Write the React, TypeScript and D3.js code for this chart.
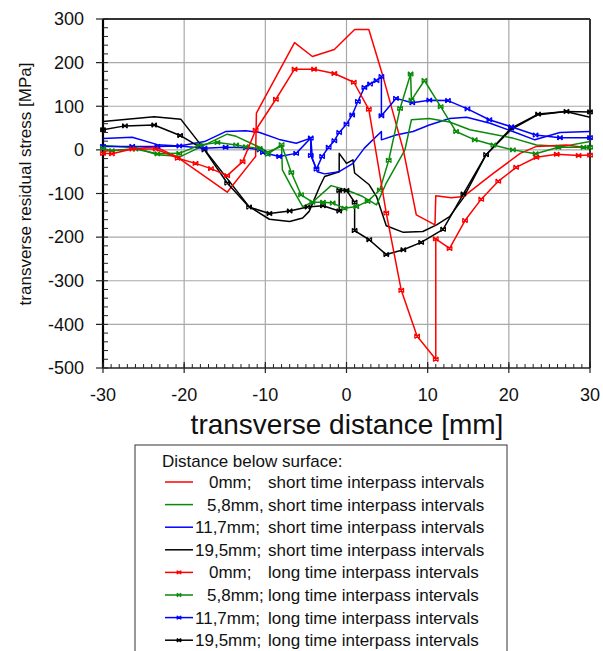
import React from "react";
import * as d3 from "d3";

type Pt = [number, number];

// transverse distance [mm], transverse residual stress [MPa]
const red0Short: Pt[] = [
  [-30, -3], [-26.4, 2], [-23.5, 7], [-20.8, -17], [-14.7, -97], [-11.2, -15], [-11.1, 84],
  [-6.4, 246], [-4.2, 214], [-1.5, 230], [1.0, 276], [2.75, 276], [4.5, 168], [7.0, 0],
  [8.6, -149], [10.9, -172], [11, -105], [12.9, -110], [14.4, -107], [18, -55], [21.4, -8],
  [23.4, 8], [27.1, 11], [30, 4],
];
const green58Short: Pt[] = [
  [-30, 10], [-26, 5], [-23.3, -11], [-20.4, -15], [-14.7, 36], [-13.6, 31], [-10.7, 6],
  [-9.7, -5], [-8, 8], [-7.9, -46], [-6.8, -84], [-5.4, -130], [-4.2, -120], [-1.9, -82],
  [0, -92], [2, -107], [3.7, -126], [4.9, -76], [7.2, 0], [8, 69], [10.2, 72], [12.7, 64],
  [15.2, 46], [20.5, 27], [23.4, 11], [26.7, 8], [30, 19],
];
const blue117Short: Pt[] = [
  [-30, 26], [-26.4, 29], [-23.3, 12], [-20.6, 9], [-17.5, 19], [-14.9, 42], [-12.4, 44],
  [-10.7, 40], [-8.3, 24], [-6.2, 15], [-4.4, 27], [-4.2, -20], [-3.6, -50], [-2.7, -55],
  [-0.9, -50], [0.8, -31], [2.2, 4], [4.3, 42], [4.3, 23], [6.1, 34], [8.2, 42], [10.2, 57],
  [12.7, 72], [14.8, 75], [17.7, 61], [20.5, 42], [23.2, 23], [26.3, 40], [30, 42],
];
const black195Short: Pt[] = [
  [-30, 65], [-23.7, 76], [-20.4, 70], [-12, -130], [-9.5, -159], [-7, -164], [-5.4, -156],
  [-4.6, -141], [-3.3, -84], [-2.7, -61], [-0.9, -50], [-0.9, -8], [0, -31], [0.8, -23],
  [1.0, -53], [2.8, -80], [3.7, -107], [4.9, -174], [7, -189], [9.4, -187], [11.1, -172],
  [12.7, -153], [14.4, -110], [17.2, -11], [20.3, 47], [23.5, 80], [27, 88], [30, 75],
];

const red0Long: Pt[] = [
  [-30, -8], [-28.9, -9], [-26.4, 2], [-23.5, 2], [-20.8, -19], [-18.6, -31], [-16.7, -43],
  [-14.7, -59], [-12.8, -27], [-11.2, 45], [-8.7, 116], [-6.4, 185], [-4.0, 185], [-1.5, 175],
  [0.9, 155], [2.75, 93], [4.9, -145], [6.75, -322], [8.7, -427], [11, -480], [11, -204],
  [12.7, -226], [14.6, -162], [16.6, -113], [18.7, -72], [20.9, -40], [23.4, -17], [25.9, -10],
  [28.6, -13], [30, -12],
];
const green58Long: Pt[] = [
  [-30, 3], [-28.9, -2], [-26, 2], [-23.3, -9], [-20.6, -8], [-18.1, 11], [-15.9, 17],
  [-13.6, 11], [-12.4, 7], [-10.7, 3], [-9.7, -10], [-8, 12], [-6.8, -52], [-5.6, -103],
  [-4.2, -120], [-2.9, -120], [-1.7, -122], [-0.25, -134], [1.2, -130], [2.6, -118], [4.1, -92],
  [5.2, -24], [6.6, 95], [7.9, 174], [8.0, 114], [9.6, 159], [11.6, 99], [13.5, 42], [15.8, 23],
  [18.1, 11], [20.5, 0], [23.3, -9], [26.1, 6], [29.2, 6], [30, 6],
];
const blue117Long: Pt[] = [
  [-30, 8], [-26.4, 8], [-23.3, 8], [-20.6, 9], [-17.5, 4], [-14.9, 6], [-12.4, 5], [-10.7, 0],
  [-10.3, -6], [-8.3, -15], [-6.2, -8], [-4.4, 27], [-4.4, -13], [-3.7, -44], [-3.0, -15],
  [-2.2, 6], [-1.5, 21], [-0.9, 40], [0, 59], [0.7, 80], [1.4, 111], [2.2, 143], [2.9, 151],
  [3.7, 159], [4.3, 168], [4.3, 78], [6.1, 118], [8.1, 108], [10.2, 114], [12.5, 113],
  [14.9, 94], [17.6, 69], [20.3, 53], [23.3, 34], [26.3, 28], [30, 28],
];
const black195Long: Pt[] = [
  [-30, 46], [-27.3, 55], [-23.7, 57], [-20.5, 33], [-17.5, 0], [-14.7, -76], [-12, -131],
  [-9.5, -146], [-7, -140], [-4.8, -131], [-2.9, -128], [-0.9, -140], [-0.9, -93], [0, -93],
  [1, -120], [1, -185], [2.8, -206], [4.9, -240], [7, -229], [9.2, -212], [11.9, -182],
  [14.4, -101], [17.2, -11], [20.3, 50], [23.6, 82], [27.1, 88], [30, 87],
];

const xTicks = [-30, -20, -10, 0, 10, 20, 30];
const yTicks = [-500, -400, -300, -200, -100, 0, 100, 200, 300];

const legendPrefixes = ["0mm;", "5,8mm,", "11,7mm;", "19,5mm;", "0mm;", "5,8mm;", "11,7mm;", "19,5mm;"];
const legendSuffixes = [
  "short time interpass intervals", "short time interpass intervals",
  "short time interpass intervals", "short time interpass intervals",
  "long time interpass intervals", "long time interpass intervals",
  "long time interpass intervals", "long time interpass intervals",
];

const RED = "#ff0000";
const GREEN = "#0a8a0a";
const BLUE = "#0000ff";
const BLACK = "#000000";

const series = [
  { data: black195Short, color: BLACK, marked: false },
  { data: blue117Short, color: BLUE, marked: false },
  { data: green58Short, color: GREEN, marked: false },
  { data: red0Short, color: RED, marked: false },
  { data: black195Long, color: BLACK, marked: true },
  { data: blue117Long, color: BLUE, marked: true },
  { data: green58Long, color: GREEN, marked: true },
  { data: red0Long, color: RED, marked: true },
];
const legendOrder = [
  { color: RED, marked: false }, { color: GREEN, marked: false },
  { color: BLUE, marked: false }, { color: BLACK, marked: false },
  { color: RED, marked: true }, { color: GREEN, marked: true },
  { color: BLUE, marked: true }, { color: BLACK, marked: true },
];

const W = 603;
const H = 651;
const left = 103, right = 590, top = 19, bottom = 368;
const FONT = "'Liberation Sans', Arial, sans-serif";

const markerPath = (s: number) =>
  `M${-s},${-s}L${s},${s}M${-s},${s}L${s},${-s}M${-s},${-s}V${s}M${s},${-s}V${s}`;

export default function App() {
  const x = d3.scaleLinear().domain([-30, 30]).range([left, right]);
  const y = d3.scaleLinear().domain([-500, 300]).range([bottom, top]);
  const line = d3.line<Pt>().x((d) => x(d[0])).y((d) => y(d[1]));

  const xMinor = d3.range(-30, 30.01, 1);
  const yMinor = d3.range(-500, 300.01, 20);

  const legendRowY = (i: number) => 482 + i * 22.6;

  return (
    <svg
      width={W}
      height={H}
      style={{ position: "absolute", left: 0, top: 0, background: "#fff" }}
      fontFamily={FONT}
    >
      {/* grid */}
      {xTicks.slice(1, -1).map((t) => (
        <line key={"gx" + t} x1={x(t)} x2={x(t)} y1={top} y2={bottom} stroke="#a8a8a8" strokeWidth={1.2} />
      ))}
      {yTicks.slice(1, -1).map((t) => (
        <line key={"gy" + t} x1={left} x2={right} y1={y(t)} y2={y(t)} stroke="#a8a8a8" strokeWidth={1.2} />
      ))}

      {/* frame */}
      <line x1={left} x2={right} y1={top} y2={top} stroke="#333" strokeWidth={2} />
      <line x1={right} x2={right} y1={top} y2={bottom} stroke="#333" strokeWidth={2} />
      <line x1={left} x2={right} y1={bottom} y2={bottom} stroke="#222" strokeWidth={1.6} />
      <line x1={left} x2={left} y1={top} y2={bottom} stroke="#000" strokeWidth={2.2} />

      {/* x ticks */}
      {xMinor.map((t) => (
        <line key={"xm" + t} x1={x(t)} x2={x(t)} y1={bottom} y2={bottom - 4} stroke="#222" strokeWidth={1} />
      ))}
      {xTicks.map((t) => (
        <g key={"xt" + t}>
          <line x1={x(t)} x2={x(t)} y1={bottom - 6} y2={bottom + 5} stroke="#222" strokeWidth={1.2} />
          <text x={x(t)} y={401} textAnchor="middle" fontSize={18} fill="#111">
            {t}
          </text>
        </g>
      ))}

      {/* y ticks */}
      {yMinor.map((t) => (
        <line key={"ym" + t} x1={left} x2={left + 5} y1={y(t)} y2={y(t)} stroke="#222" strokeWidth={1} />
      ))}
      {yTicks.map((t) => (
        <g key={"yt" + t}>
          <line x1={left - 7} x2={left} y1={y(t)} y2={y(t)} stroke="#222" strokeWidth={1.2} />
          <text x={84} y={y(t)} dy="0.35em" textAnchor="end" fontSize={18} fill="#111">
            {t}
          </text>
        </g>
      ))}

      {/* axis titles */}
      <text x={347} y={434} textAnchor="middle" fontSize={28} fill="#111">
        transverse distance [mm]
      </text>
      <text
        transform={`translate(25,184) rotate(-90)`}
        textAnchor="middle"
        dy="0.35em"
        fontSize={17}
        fill="#111"
      >
        transverse residual stress [MPa]
      </text>

      {/* data */}
      {series.map((s, i) => (
        <g key={"s" + i}>
          <path d={line(s.data) || ""} fill="none" stroke={s.color} strokeWidth={1.5} strokeLinejoin="round" />
          {s.marked &&
            s.data.map((d, j) => (
              <path
                key={j}
                d={markerPath(2.3)}
                transform={`translate(${x(d[0])},${y(d[1])})`}
                fill="none"
                stroke={s.color}
                strokeWidth={1.2}
              />
            ))}
        </g>
      ))}

      {/* legend */}
      <rect x={135} y={445} width={372} height={230} fill="#fff" stroke="#555" strokeWidth={1.2} />
      <text x={162} y={467} fontSize={17} fill="#111">
        Distance below surface:
      </text>
      {legendOrder.map((l, i) => {
        const ly = legendRowY(i);
        const px = i === 2 || i === 3 || i === 6 || i === 7 ? 195 : i === 1 || i === 5 ? 207 : 209;
        return (
          <g key={"lg" + i}>
            <line x1={165} x2={193} y1={ly} y2={ly} stroke={l.color} strokeWidth={1.5} />
            {l.marked && (
              <path d={markerPath(1.8)} transform={`translate(179,${ly})`} fill="none" stroke={l.color} strokeWidth={1.2} />
            )}
            <text x={px} y={ly} dy="0.35em" fontSize={17} fill="#111">
              {legendPrefixes[i]}
            </text>
            <text x={268} y={ly} dy="0.35em" fontSize={17} fill="#111">
              {legendSuffixes[i]}
            </text>
          </g>
        );
      })}
    </svg>
  );
}
